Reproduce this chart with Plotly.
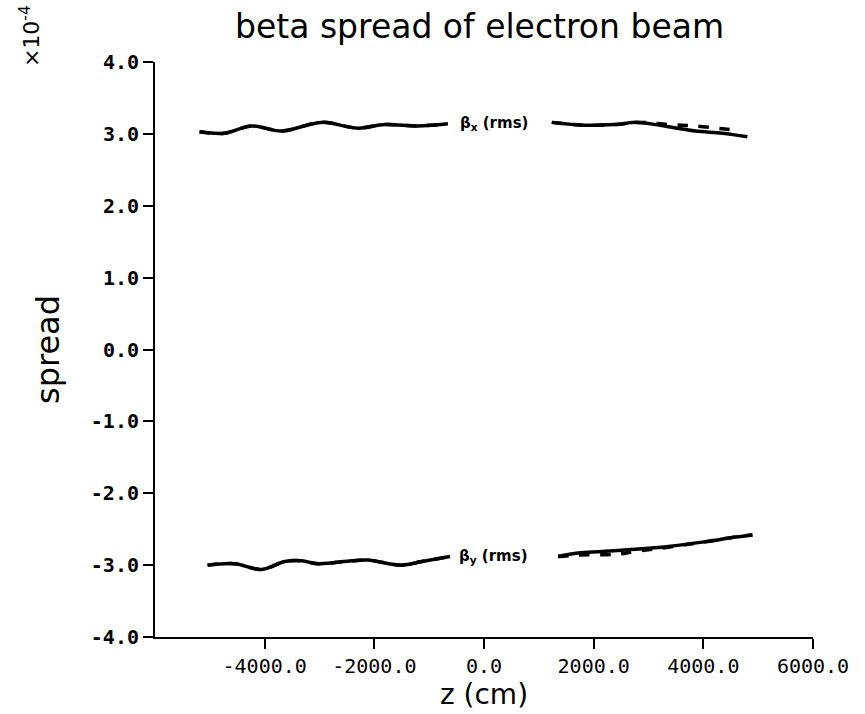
import plotly.graph_objects as go

# beta_x (rms) - solid curve (None marks gap where label sits)
bx_z = [-5187, -4730, -4237, -3690, -2959, -2301, -1808, -1205, -658,
        None,
        1236, 1845, 2393, 2813, 3361, 3854, 4347, 4804]
bx_v = [3.03, 3.01, 3.11, 3.04, 3.16, 3.08, 3.13, 3.11, 3.14,
        None,
        3.16, 3.12, 3.13, 3.16, 3.10, 3.04, 3.01, 2.96]
# beta_x dashed companion curve
bxd_z = [-5187, -4730, -4237, -3690, -2959, -2301, -1808, -1205, -658,
         None,
         1236, 1845, 2393, 2813, 3361, 3854, 4347, 4600]
bxd_v = [3.03, 3.01, 3.11, 3.04, 3.16, 3.08, 3.13, 3.11, 3.14,
         None,
         3.16, 3.12, 3.13, 3.16, 3.13, 3.11, 3.07, 3.05]

# beta_y (rms) - solid curve
by_z = [-5041, -4548, -4055, -3635, -3324, -3032, -2411, -2119, -1498, -1132, -621,
        None,
        1352, 1717, 2155, 2758, 3361, 3982, 4584, 4895]
by_v = [-3.00, -2.98, -3.06, -2.95, -2.94, -2.98, -2.94, -2.93, -3.00, -2.95, -2.88,
        None,
        -2.88, -2.83, -2.81, -2.78, -2.74, -2.68, -2.61, -2.58]
# beta_y dashed companion curve
byd_z = [-5041, -4548, -4055, -3635, -3324, -3032, -2411, -2119, -1498, -1132, -621,
         None,
         1352, 1717, 2400, 2758, 3361, 3982, 4584, 4895]
byd_v = [-3.00, -2.98, -3.06, -2.95, -2.94, -2.98, -2.94, -2.93, -3.00, -2.95, -2.88,
         None,
         -2.88, -2.86, -2.85, -2.81, -2.75, -2.68, -2.61, -2.58]

x_ticks = [-4000, -2000, 0, 2000, 4000, 6000]
x_tick_text = ["-4000.0", "-2000.0", "0.0", "2000.0", "4000.0", "6000.0"]
y_ticks = [4, 3, 2, 1, 0, -1, -2, -3, -4]
y_tick_text = ["4.0", "3.0", "2.0", "1.0", "0.0", "-1.0", "-2.0", "-3.0", "-4.0"]

fig = go.Figure()
for zs, vs, dash in [(bxd_z, bxd_v, "dash"), (bx_z, bx_v, "solid"),
                     (byd_z, byd_v, "dash"), (by_z, by_v, "solid")]:
    fig.add_trace(go.Scatter(x=zs, y=vs, mode="lines",
                             line=dict(color="black", width=3.5, dash=dash, shape="spline"),
                             connectgaps=False, showlegend=False, hoverinfo="skip"))

fig.add_annotation(x=-475, y=3.15, xref="x", yref="y", xanchor="left", yanchor="middle",
                   text="<b>β<sub>x</sub> (rms)</b>", showarrow=False,
                   font=dict(family="DejaVu Sans", size=15, color="black"))
fig.add_annotation(x=-493, y=-2.88, xref="x", yref="y", xanchor="left", yanchor="middle",
                   text="<b>β<sub>y</sub> (rms)</b>", showarrow=False,
                   font=dict(family="DejaVu Sans", size=15, color="black"))

# title
fig.add_annotation(x=0.5, y=1, xref="paper", yref="paper", xanchor="center", yanchor="bottom",
                   yshift=14, xshift=-5, text="beta spread of electron beam", showarrow=False,
                   font=dict(family="DejaVu Sans", size=33, color="black"))
# exponent
fig.add_annotation(x=-0.19, y=1.045, xref="paper", yref="paper", xanchor="center", yanchor="middle",
                   text="×10<sup>-4</sup>", textangle=-90, showarrow=False,
                   font=dict(family="DejaVu Sans", size=22, color="black"))

fig.update_layout(
    width=865, height=714,
    margin=dict(l=155, r=52, t=62, b=77),
    paper_bgcolor="white", plot_bgcolor="white",
    xaxis=dict(range=[-6000, 6000], tickvals=x_ticks, ticktext=x_tick_text,
               showgrid=False, zeroline=False, showline=True, linecolor="black", linewidth=2,
               ticks="outside", ticklen=10, tickwidth=2, tickcolor="black",
               tickfont=dict(family="DejaVu Sans Mono", size=20, color="black"),
               title=dict(text="z (cm)", font=dict(family="DejaVu Sans", size=28, color="black"),
                          standoff=2)),
    yaxis=dict(range=[-4, 4], tickvals=y_ticks, ticktext=y_tick_text,
               showgrid=False, zeroline=False, showline=True, linecolor="black", linewidth=2,
               ticks="outside", ticklen=10, tickwidth=2, tickcolor="black",
               tickfont=dict(family="DejaVu Sans Mono", size=20, color="black", weight="bold"),
               title=dict(text="spread", font=dict(family="DejaVu Sans", size=32, color="black"),
                          standoff=22)),
)

fig.write_html("out.html")
